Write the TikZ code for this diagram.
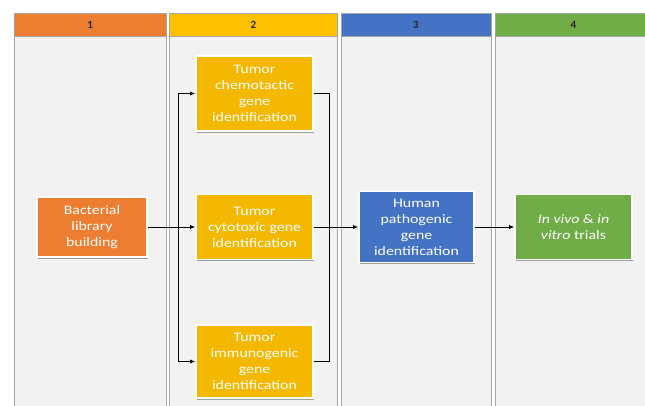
\documentclass[tikz,border=0pt]{standalone}
\usepackage{fontspec}
\setmainfont{Carlito}[FakeStretch=1.22]
\newfontfamily\hdrfont{Carlito}
\usetikzlibrary{arrows.meta,shadows}
\definecolor{corange}{HTML}{ED7D31}
\definecolor{cyellow}{HTML}{FFC000}
\definecolor{byellow}{HTML}{F5B800}
\definecolor{cblue}{HTML}{4472C4}
\definecolor{cgreen}{HTML}{70AD47}
\definecolor{colbg}{HTML}{F2F2F2}
\definecolor{colline}{HTML}{A6A6A6}
\tikzset{
  colbody/.style={fill=colbg, draw=colline, line width=0.8pt},
  hdr/.style={draw=colline, line width=0.6pt, minimum height=23pt, inner sep=0pt,
    font=\hdrfont\bfseries\fontsize{11}{13}\selectfont, text=black!85},
  proc/.style={draw=white, line width=1.6pt, inner sep=0pt, align=center,
    text=white, font=\fontsize{13}{16}\selectfont,
    drop shadow={shadow xshift=1.2pt, shadow yshift=-1.5pt, opacity=0.35, fill=black}},
  link/.style={draw=black, line width=0.7pt},
  arr/.style={link, -{Latex[length=5pt,width=4pt]}}
}
\begin{document}
\begin{tikzpicture}[x=1pt,y=-1pt]
\useasboundingbox (0,0) rectangle (645,405);
\clip (0,0) rectangle (645,405);
% columns
\draw[colbody] (14.5,36) rectangle (166,412);
\draw[colbody] (169.5,36) rectangle (337.5,412);
\draw[colbody] (341,36) rectangle (491,412);
\draw[colbody] (495,36) rectangle (652,412);
% headers
\node[hdr, fill=corange, minimum width=151.5pt] (h1) at (90.25,24.5) {1};
\node[hdr, fill=cyellow, minimum width=168pt] (h2) at (253.5,24.5) {2};
\node[hdr, fill=cblue, minimum width=150pt] (h3) at (416,24.5) {3};
\node[hdr, fill=cgreen, minimum width=157pt] (h4) at (573.5,24.5) {4};
% process boxes
\node[proc, fill=corange, minimum width=110pt, minimum height=60pt] (bact) at (92,227) {Bacterial\\library\\building};
\node[proc, fill=byellow, minimum width=117pt, minimum height=75pt] (chemo) at (254.5,93.5) {Tumor\\chemotactic\\gene\\identification};
\node[proc, fill=byellow, minimum width=117pt, minimum height=65pt] (cyto) at (254.5,227) {Tumor\\cytotoxic gene\\identification};
\node[proc, fill=byellow, minimum width=117pt, minimum height=73pt] (immuno) at (254.5,361.5) {Tumor\\immunogenic\\gene\\identification};
\node[proc, fill=cblue, minimum width=115pt, minimum height=71pt] (human) at (416.5,227) {Human\\pathogenic\\gene\\identification};
\node[proc, fill=cgreen, minimum width=117pt, minimum height=65pt] (vivo) at (573.5,227) {\textit{In vivo} \& \textit{in}\\\textit{vitro} trials};
% connectors
\coordinate (bl) at (178,227);
\coordinate (br) at (329,227);
\draw[arr] (bact.east) -- (cyto.west);
\draw[arr] (bl) |- (chemo.west);
\draw[arr] (bl) |- (immuno.west);
\draw[link] (chemo.east) -| (br);
\draw[link] (immuno.east) -| (br);
\draw[arr] (cyto.east) -- (human.west);
\draw[arr] (human.east) -- (vivo.west);
\end{tikzpicture}
\end{document}
